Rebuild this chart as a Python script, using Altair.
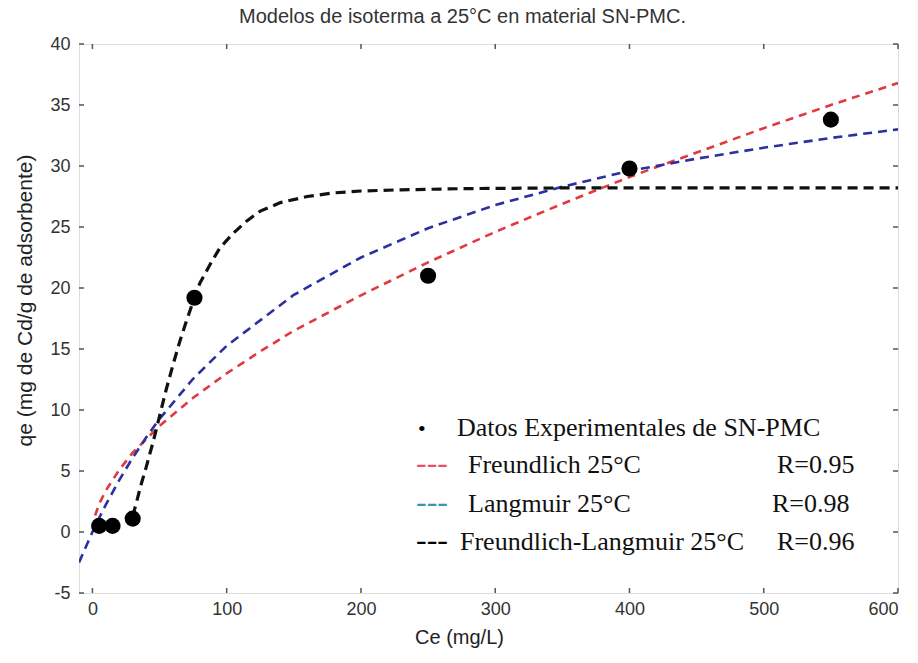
import altair as alt
import pandas as pd

# Experimental data
exp_x = [5, 15, 30, 76, 250, 400, 550]
exp_y = [0.5, 0.5, 1.1, 19.2, 21.0, 29.8, 33.8]

# Freundlich model curve
fr_x = [2, 5, 10, 20, 30, 40, 50, 75, 100, 125, 150, 200, 250, 300, 350, 400, 450, 500, 550, 600]
fr_y = [1.35, 2.3, 3.4, 5.1, 6.5, 7.6, 8.7, 11.0, 13.0, 14.8, 16.5, 19.4, 22.1, 24.6, 26.9, 29.1, 31.1, 33.1, 35.0, 36.8]

# Langmuir model curve
la_x = [-10, 0, 5, 10, 20, 30, 40, 50, 75, 100, 150, 200, 250, 300, 350, 400, 450, 500, 550, 600]
la_y = [-2.5, 0.0, 1.15, 2.24, 4.26, 6.09, 7.75, 9.27, 12.56, 15.26, 19.44, 22.5, 24.9, 26.8, 28.3, 29.6, 30.6, 31.5, 32.3, 33.0]

# Freundlich-Langmuir model curve
fl_x = [30, 33, 36, 40, 45, 48, 50, 55, 60, 65, 70, 76, 80, 88, 95, 105, 115, 125, 140, 160, 180, 200, 230, 280, 350, 450, 600]
fl_y = [1.3, 2.5, 3.8, 5.3, 7.3, 8.6, 9.5, 11.7, 13.7, 15.6, 17.3, 19.2, 20.4, 22.0, 23.3, 24.5, 25.5, 26.3, 27.0, 27.5, 27.8, 27.95, 28.05, 28.15, 28.2, 28.2, 28.2]

x_ticks = [0, 100, 200, 300, 400, 500, 600]
y_ticks = [-5, 0, 5, 10, 15, 20, 25, 30, 35, 40]

legend_labels = ["Datos Experimentales  de SN-PMC", "Freundlich 25°C", "Langmuir 25°C", "Freundlich-Langmuir 25°C"]
legend_r = ["R=0.95", "R=0.98", "R=0.96"]

W, H = 819, 549
xs = alt.Scale(domain=[-10, 600], nice=False, zero=False)
ys = alt.Scale(domain=[-5, 40], nice=False, zero=False)

xaxis = alt.Axis(values=x_ticks, title="Ce (mg/L)", tickSize=0, labelPadding=7, grid=False,
                 domain=False, labelFont="Liberation Sans", labelFontSize=18, labelColor="#333",
                 titleFont="Liberation Sans", titleFontSize=20, titleFontWeight="normal",
                 titleColor="#222", titlePadding=9, titleX=380, labelExpr="'' + datum.value")
yaxis = alt.Axis(values=y_ticks, title="qe (mg de Cd/g de adsorbente)", tickSize=0, labelPadding=9,
                 grid=False, domain=False, labelFont="Liberation Sans", labelFontSize=18,
                 labelColor="#333", titleFont="Liberation Sans", titleFontSize=21,
                 titleFontWeight="normal", titleColor="#222", titlePadding=14, titleY=256,
                 labelExpr="'' + datum.value")

def curve(xv, yv, color, dash, width):
    df = pd.DataFrame({"x": xv, "y": yv})
    return alt.Chart(df).mark_line(color=color, strokeDash=dash, strokeWidth=width, clip=True).encode(
        x=alt.X("x:Q", scale=xs, axis=xaxis),
        y=alt.Y("y:Q", scale=ys, axis=yaxis),
    )

red = curve(fr_x, fr_y, "#e0393e", [8, 6], 2.6)
blue = curve(la_x, la_y, "#2b2fa0", [9, 6], 2.6)
black = curve(fl_x, fl_y, "#111111", [10, 6], 3.2)

pts = alt.Chart(pd.DataFrame({"x": exp_x, "y": exp_y})).mark_circle(
    color="#000", opacity=1, size=260).encode(
    x=alt.X("x:Q", scale=xs), y=alt.Y("y:Q", scale=ys))

xt = pd.DataFrame({"x": x_ticks})
yt = pd.DataFrame({"y": y_ticks})
tick_col = "#555"
tb = alt.Chart(xt).mark_rule(color=tick_col, strokeWidth=1.5).encode(
    x=alt.X("x:Q", scale=xs), y=alt.value(H), y2=alt.value(H - 5))
tt = alt.Chart(xt).mark_rule(color=tick_col, strokeWidth=1.5).encode(
    x=alt.X("x:Q", scale=xs), y=alt.value(0), y2=alt.value(5))
tl = alt.Chart(yt).mark_rule(color=tick_col, strokeWidth=1.5).encode(
    y=alt.Y("y:Q", scale=ys), x=alt.value(0), x2=alt.value(5))
tr = alt.Chart(yt).mark_rule(color=tick_col, strokeWidth=1.5).encode(
    y=alt.Y("y:Q", scale=ys), x=alt.value(W), x2=alt.value(W - 5))

def txt(s, x, y, color="#111", size=26):
    return alt.Chart(pd.DataFrame({"t": [s]})).mark_text(
        font="Liberation Serif", fontSize=size, color=color, align="left", baseline="alphabetic"
    ).encode(text="t:N", x=alt.value(x), y=alt.value(y))

leg = [
    txt("•", 339, 392, "#000", 22),
    txt(legend_labels[0], 378, 392),
    txt("---", 337, 429, "#e8506a", 32),
    txt(legend_labels[1], 389, 429),
    txt(legend_r[0], 698, 429),
    txt("---", 337, 468, "#3f8fb8", 32),
    txt(legend_labels[2], 389, 468),
    txt(legend_r[1], 693, 468),
    txt("---", 337, 506, "#000", 32),
    txt(legend_labels[3], 381, 506),
    txt(legend_r[2], 698, 506),
]

chart = alt.layer(red, blue, black, pts, tb, tt, tl, tr, *leg).properties(
    width=W, height=H,
    title=alt.TitleParams("Modelos de isoterma a 25°C en material SN-PMC.", font="Liberation Sans",
                          fontSize=20, fontWeight="normal", color="#333", anchor="middle", offset=8,
                          dx=-26),
    padding={"left": 79, "top": 44, "right": 20, "bottom": 70},
    autosize=alt.AutoSizeParams(type="none"),
).configure_view(stroke="#444", strokeWidth=2).configure(background="white")

chart.save("out.html", embed_options={"renderer": "svg", "actions": False})
